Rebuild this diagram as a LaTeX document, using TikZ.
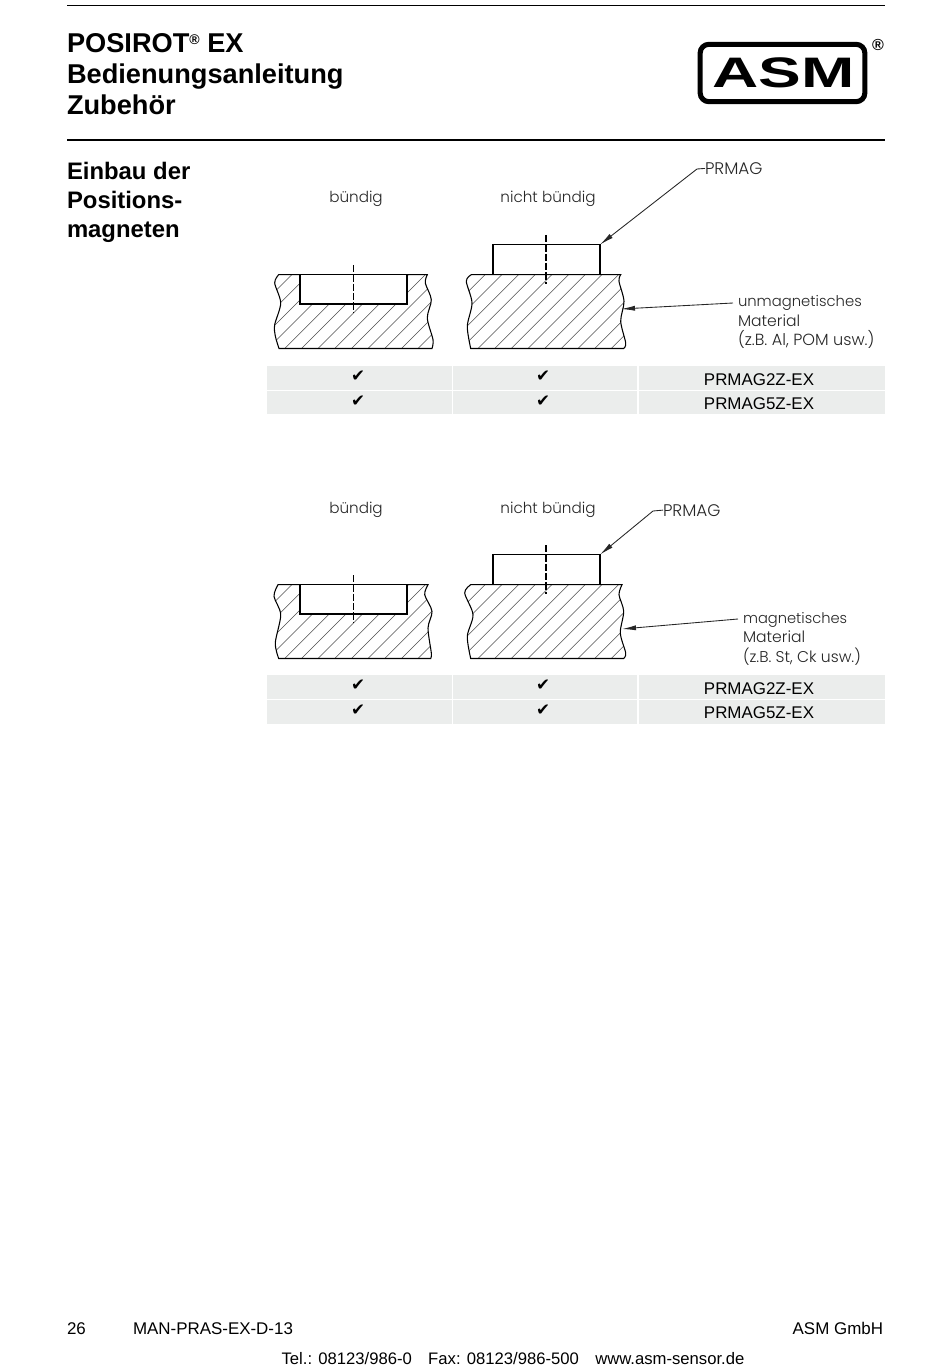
\documentclass[tikz,border=0pt]{standalone}
\usepackage{fontspec}
\setmainfont{Liberation Sans}
\newfontfamily\gothfont{Poppins Light}
\newfontfamily\symfont{DejaVu Sans}
\usetikzlibrary{arrows.meta,positioning}

% hatched block: #1 = bottom edge, #2 = first hatch line, #3 = outline
\newcommand{\hatchblock}[3]{%
  \begin{scope}
    \clip #3;
    \foreach \k in {0,...,30}{
      \draw[hatch] ({#2+16.67*\k},#1) -- ++(90,-90);
    }
  \end{scope}
  \draw[edge] #3;
}

\begin{document}
\begin{tikzpicture}[
    x=0.75pt, y=-0.75pt,
    >={Latex[length=10.5pt,width=3.8pt]},
    every node/.style={inner sep=0pt, outer sep=0pt},
    headtext/.style={font=\fontsize{20.4}{24}\bfseries\selectfont, anchor=base west},
    sidetext/.style={font=\fontsize{17.9}{22}\bfseries\selectfont, anchor=base west},
    foottext/.style={font=\fontsize{12.7}{15}\selectfont, anchor=base west},
    drawtext/.style={font=\gothfont\fontsize{#1}{14}\selectfont, text=black!85, anchor=base west},
    drawtext/.default=11.4,
    rule/.style={line width=1.1pt},
    edge/.style={line width=0.8pt},
    hatch/.style={line width=0.4pt, black!70},
    part/.style={draw, fill=white, line width=0.95pt, minimum width=80.25pt},
    centre/.style={dash pattern=on 5.5pt off 1.5pt},
    leader/.style={->, line width=0.65pt, black!85},
    cell/.style={fill=tablegrey, minimum height=17.6pt},
    tick/.style={font=\symfont\fontsize{12.5}{15}\selectfont},
    order/.style={font=\fontsize{12.7}{15}\selectfont}
  ]
    \definecolor{tablegrey}{HTML}{EBEDEC}
    \useasboundingbox (0,0) rectangle (950,1369);

    %=== Kopf ===%
    \coordinate (ruleTopL) at (67,5.5);
    \coordinate (ruleTopR) at (885,5.5);
    \coordinate (ruleMidL) at (67,140);
    \coordinate (ruleMidR) at (885,140);
    \draw[rule] (ruleTopL) -- (ruleTopR);
    \draw[rule] (ruleMidL) -- (ruleMidR);
    \node[headtext] (title1) at (67,53) {POSIROT\raisebox{6.5pt}{\fontsize{10.5}{11}\selectfont ®} EX};
    \node[headtext] (title2) at (67,84) {Bedienungsanleitung};
    \node[headtext] (title3) at (67,115) {Zubehör};

    %=== Logo ===%
    \node[draw, line width=3.8pt, rounded corners=6.5pt, minimum width=123.5pt, minimum height=43pt] (logo) at (782.5,73) {};
    \node[font=\fontsize{32}{32}\bfseries\selectfont, xscale=1.5] (logoText) at (783.5,73) {ASM};
    \node[font=\fontsize{12}{12}\bfseries\selectfont] (logoReg) at (878,44.5) {®};

    \node[sidetext] (side1) at (67,180) {Einbau der};
    \node[sidetext] (side2) at (67,209) {Positions-};
    \node[sidetext] (side3) at (67,238) {magneten};

    %=== Block oben ===%
    \hatchblock{348.5}{201.4}{(278.7,274.7) -- (427.3,274.7) -- plot[smooth] coordinates {(427.3,274.7) (425.3,283) (431.3,299.7) (427.3,318) (433,339.7) (432,348.5)} -- (279,348.5) -- plot[smooth] coordinates {(279,348.5) (275.3,336) (274.7,324.7) (280.7,303) (274.7,283) (278.7,274.7)} -- cycle}
    \hatchblock{348.5}{194.6}{(471.3,274.7) -- (620.7,274.7) -- plot[smooth] coordinates {(620.7,274.7) (619,281.3) (624,301.3) (620.7,321.3) (625.7,343) (623.7,348.5)} -- (470.7,348.5) -- plot[smooth] coordinates {(470.7,348.5) (467.3,326.3) (472,303) (466.3,281.3) (471.3,274.7)} -- cycle}
    \node[part, minimum height=22pt] (pocketA) at (353.5,289.4) {};
    \node[part, minimum height=22.5pt] (magA) at (546.5,259.6) {};

    %=== Block unten ===%
    \hatchblock{658.5}{201.4}{(278,584.7) -- (428,584.7) -- plot[smooth] coordinates {(428,584.7) (424.7,594.7) (432,611.3) (428,628) (431.3,653) (430.7,658.5)} -- (278.7,658.5) -- plot[smooth] coordinates {(278.7,658.5) (275.3,643) (280.7,614.7) (274,596.3) (278,584.7)} -- cycle}
    \hatchblock{658.5}{194.6}{(470.7,584.7) -- (622,584.7) -- plot[smooth] coordinates {(622,584.7) (619,594.7) (623.7,611.3) (620.3,633) (625.7,653) (623.7,658.5)} -- (470.7,658.5) -- plot[smooth] coordinates {(470.7,658.5) (467.3,636.3) (473,614.7) (464.7,593) (470.7,584.7)} -- cycle}
    \node[part, minimum height=22pt] (pocketB) at (353.5,599.4) {};
    \node[part, minimum height=22.5pt] (magB) at (546.5,569.6) {};

    %=== Mittellinien ===%
    \foreach \yo/\sec in {0/A,310/B}{
      \coordinate (axis1\sec a) at (353.5,265+\yo);
      \coordinate (axis1\sec b) at (353.5,313+\yo);
      \coordinate (axis2\sec a) at (546,235+\yo);
      \coordinate (axis2\sec b) at (546,284+\yo);
      \draw[centre, line width=0.45pt] (axis1\sec a) -- (axis1\sec b);
      \draw[centre, line width=0.8pt] (axis2\sec a) -- (axis2\sec b);
    }

    %=== Beschriftung ===%
    \node[drawtext, anchor=base] (flushA) at (356,202.3) {bündig};
    \node[drawtext, anchor=base] (raisedA) at (548,202.3) {nicht bündig};
    \node[drawtext, anchor=base] (flushB) at (356,513.3) {bündig};
    \node[drawtext, anchor=base] (raisedB) at (548,513.3) {nicht bündig};

    \node[drawtext=12.6] (prmagA) at (705,174.3) {PRMAG};
    \node[drawtext=12.6] (prmagB) at (663,516) {PRMAG};
    \coordinate (kneeA) at (697,169);
    \coordinate (kneeB) at (653,511);
    \draw[leader] (prmagA.west) -- (kneeA) -- (magA.north east);
    \draw[leader] (prmagB.west) -- (kneeB) -- (magB.north east);

    \node[drawtext=11.1] (matA1) at (738,306.5) {unmagnetisches};
    \node[drawtext=11.7] (matA2) at (738,326) {Material};
    \node[drawtext=12.1] (matA3) at (738,345) {(z.B. Al, POM usw.)};
    \node[drawtext=11] (matB1) at (743,623) {magnetisches};
    \node[drawtext=11.7] (matB2) at (743,642.7) {Material};
    \node[drawtext=11.7] (matB3) at (743,662) {(z.B. St, Ck usw.)};
    \coordinate (tipA) at (621,309);
    \coordinate (tipB) at (622,629);
    \coordinate (startA) at (733,303);
    \coordinate (startB) at (738,619);
    \draw[leader] (startA) -- (tipA);
    \draw[leader] (startB) -- (tipB);

    %=== Tabellen ===%
    \foreach \r/\ya/\yb/\nm in {a/378/380/PRMAG2Z-EX,b/402.5/404/PRMAG5Z-EX,c/687/689/PRMAG2Z-EX,d/712/713/PRMAG5Z-EX}{
      \node[cell, minimum width=138.75pt] (cell\r1) at (359.5,\ya) {};
      \node[cell, minimum width=138pt] (cell\r2) at (545,\ya) {};
      \node[cell, minimum width=184.5pt] (cell\r3) at (762,\ya) {};
      \node[tick] (tick\r1) at (358,\ya-1.5) {✔};
      \node[tick] (tick\r2) at (543,\ya-1.5) {✔};
      \node[order] (order\r) at (759,\yb) {\nm};
    }

    %=== Fuss ===%
    \node[foottext] (pageNo) at (67,1334) {26};
    \node[foottext] (docNo) at (133,1334) {MAN-PRAS-EX-D-13};
    \node[foottext, anchor=base east] (company) at (883,1334) {ASM GmbH};
    \node[foottext, font=\fontsize{12.5}{15}\selectfont, anchor=base] (contact) at (513,1364) {Tel.: 08123/986-0\hspace{0.98em}Fax: 08123/986-500\hspace{0.98em}www.asm-sensor.de};
  \end{tikzpicture}
\end{document}
